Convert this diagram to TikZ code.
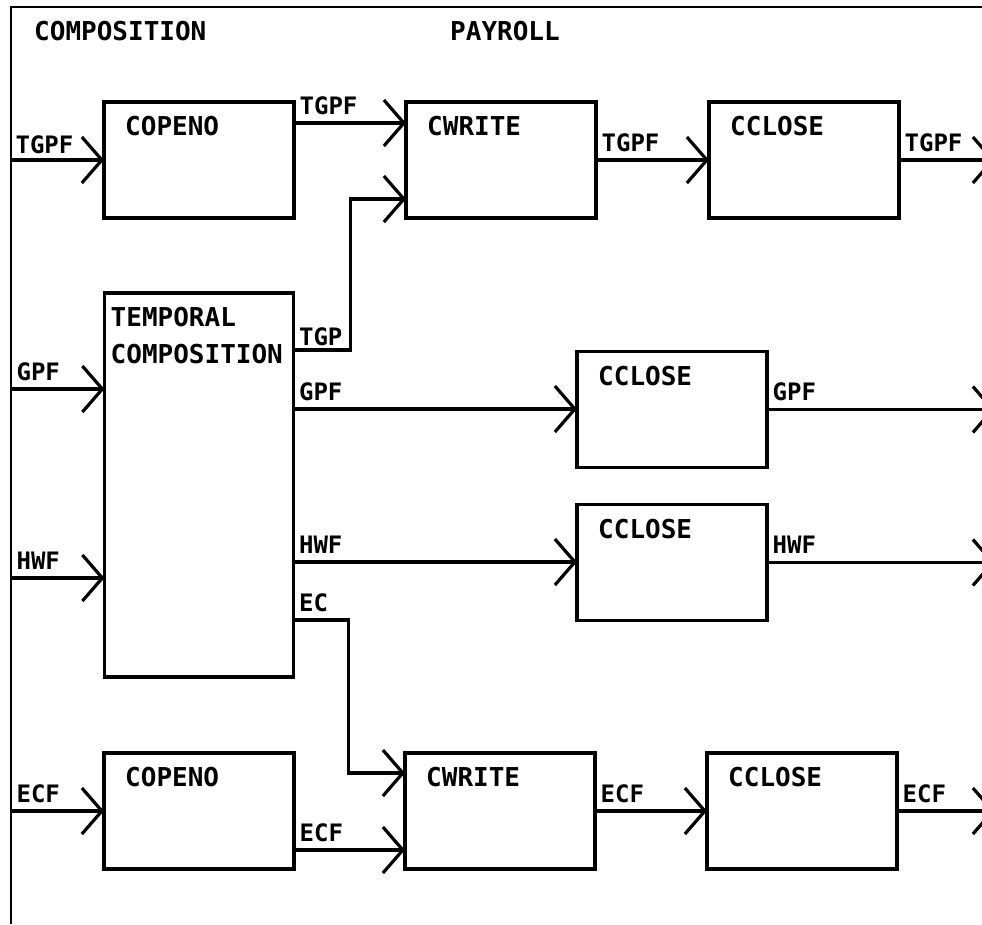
\documentclass[tikz,border=0pt]{standalone}
\usepackage{fontspec}
\setmonofont{DejaVu Sans Mono}
\usetikzlibrary{positioning,arrows.meta,calc}

\begin{document}
\begin{tikzpicture}[
      x=1pt, y=-1pt,
      font=\ttfamily\bfseries\fontsize{26}{28}\selectfont
    ]

    \tikzstyle{box} = [rectangle, draw=black, line width=3.4pt, minimum width=190pt, minimum height=116pt, inner sep=0pt, outer sep=0pt]
    \tikzstyle{boxlabel} = [anchor=north west, inner sep=0pt, xshift=21pt, yshift=-14pt]
    \tikzstyle{flow} = [line width=3.2pt, -{Straight Barb[length=20pt,width=46pt]}]
    \tikzstyle{tag} = [anchor=south west, inner sep=0pt, xshift=4pt, yshift=7pt, font=\ttfamily\bfseries\fontsize{24}{26}\selectfont]

    \useasboundingbox (0,0) rectangle (982,924);
    \coordinate (frameL) at (11,0);
    \coordinate (frameR) at (995,0);
    \draw [line width=2.6pt] (982,7) -- (11,7) -- (11,924);

    \node [anchor=west, inner sep=0pt] (compTitle) at (34,31) {COMPOSITION};
    \node [anchor=west, inner sep=0pt] (payTitle) at (450,31) {PAYROLL};

    % top row
    \node [box, label={[boxlabel]north west:COPENO}] (copenoA) at (199,160) {};
    \node [box, label={[boxlabel]north west:CWRITE}] (cwriteA) [right=112pt of copenoA] {};
    \node [box, label={[boxlabel]north west:CCLOSE}] (ccloseA) [right=113pt of cwriteA] {};

    % middle
    \node [box, minimum width=189pt, minimum height=384pt,
      label={[anchor=north west, inner sep=0pt, xshift=6pt, yshift=-14pt, align=left]north west:TEMPORAL\\[9pt]COMPOSITION}]
      (temporal) [below=75pt of copenoA] {};
    \node [box, label={[boxlabel]north west:CCLOSE}] (ccloseB) at (672,409.5) {};
    \node [box, label={[boxlabel]north west:CCLOSE}] (ccloseC) at (672,562.5) {};

    % bottom row
    \node [box, label={[boxlabel]north west:COPENO}] (copenoB) [below=76pt of temporal] {};
    \node [box, label={[boxlabel]north west:CWRITE}] (cwriteB) [right=111pt of copenoB] {};
    \node [box, label={[boxlabel]north west:CCLOSE}] (ccloseD) [right=112pt of cwriteB] {};

    \coordinate (gpfIn) at ($(temporal.north west)+(0,96)$);
    \coordinate (hwfIn) at ($(temporal.north west)+(0,285)$);
    \coordinate (tgpOut) at ($(temporal.north east)+(0,57)$);
    \coordinate (gpfOut) at ($(temporal.north east)+(0,116)$);
    \coordinate (hwfOut) at ($(temporal.north east)+(0,269)$);
    \coordinate (ecOut) at ($(temporal.north east)+(0,327)$);

    \draw [flow] (frameL |- copenoA.west) node [tag, xshift=-1pt, yshift=-2pt] (tTgpfIn) {TGPF} -- (copenoA.west);
    \draw [flow] ([yshift=-21pt]copenoA.north east) node [tag] (tTgpfA) {TGPF} -- ([yshift=-21pt]cwriteA.north west);
    \draw [flow] (tgpOut) node [tag, yshift=-4pt] (tTgp) {TGP} -- ($(tgpOut)+(57,0)$) |- ([yshift=-97pt]cwriteA.north west);
    \draw [flow] (cwriteA.east) node [tag] (tTgpfB) {TGPF} -- (ccloseA.west);
    \draw [flow] (ccloseA.east) node [tag] (tTgpfOut) {TGPF} -- (frameR |- ccloseA.east);

    \draw [flow] (frameL |- gpfIn) node [tag] (tGpfIn) {GPF} -- (gpfIn);
    \draw [flow] (gpfOut) node [tag] (tGpfA) {GPF} -- (gpfOut -| ccloseB.west);
    \draw [flow] (ccloseB.east) node [tag] (tGpfOut) {GPF} -- (frameR |- ccloseB.east);

    \draw [flow] (frameL |- hwfIn) node [tag] (tHwfIn) {HWF} -- (hwfIn);
    \draw [flow] (hwfOut) node [tag] (tHwfA) {HWF} -- (hwfOut -| ccloseC.west);
    \draw [flow] (ccloseC.east) node [tag] (tHwfOut) {HWF} -- (frameR |- ccloseC.east);

    \draw [flow] (ecOut) node [tag] (tEc) {EC} -- ($(ecOut)+(55,0)$) |- ([yshift=-20pt]cwriteB.north west);
    \draw [flow] (frameL |- copenoB.west) node [tag] (tEcfIn) {ECF} -- (copenoB.west);
    \draw [flow] ([yshift=-97pt]copenoB.north east) node [tag] (tEcfA) {ECF} -- ([yshift=-97pt]cwriteB.north west);
    \draw [flow] (cwriteB.east) node [tag] (tEcfB) {ECF} -- (ccloseD.west);
    \draw [flow] (ccloseD.east) node [tag] (tEcfOut) {ECF} -- (frameR |- ccloseD.east);

\end{tikzpicture}
\end{document}
